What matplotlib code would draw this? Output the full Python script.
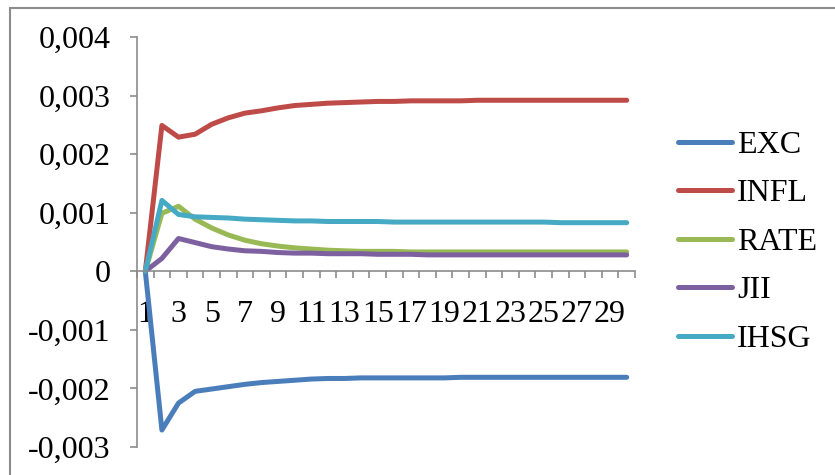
import matplotlib.pyplot as plt
import matplotlib.patches as mpatches
from matplotlib.ticker import FuncFormatter

plt.rcParams['font.family'] = ['Liberation Serif', 'DejaVu Serif']

periods = list(range(1, 31))
exc = [0, -0.00271, -0.00225, -0.00205, -0.00201, -0.00197, -0.00193, -0.00190, -0.00188, -0.00186,
       -0.00184, -0.00183, -0.00183, -0.00182, -0.00182, -0.00182, -0.00182, -0.00182, -0.00182, -0.00181,
       -0.00181, -0.00181, -0.00181, -0.00181, -0.00181, -0.00181, -0.00181, -0.00181, -0.00181, -0.00181]
infl = [0, 0.00249, 0.00229, 0.00234, 0.00251, 0.00262, 0.00270, 0.00274, 0.00279, 0.00283,
        0.00285, 0.00287, 0.00288, 0.00289, 0.00290, 0.00290, 0.00291, 0.00291, 0.00291, 0.00291,
        0.00292, 0.00292, 0.00292, 0.00292, 0.00292, 0.00292, 0.00292, 0.00292, 0.00292, 0.00292]
rate = [0, 0.00099, 0.00111, 0.00089, 0.00074, 0.00062, 0.00053, 0.00047, 0.00043, 0.00040,
        0.00038, 0.00036, 0.00035, 0.00034, 0.00034, 0.00034, 0.00033, 0.00033, 0.00033, 0.00033,
        0.00033, 0.00033, 0.00033, 0.00033, 0.00033, 0.00033, 0.00033, 0.00033, 0.00033, 0.00033]
jii = [0, 0.00022, 0.00056, 0.00049, 0.00042, 0.00038, 0.00035, 0.00034, 0.00032, 0.00031,
       0.00031, 0.00030, 0.00030, 0.00030, 0.00029, 0.00029, 0.00029, 0.00028, 0.00028, 0.00028,
       0.00028, 0.00028, 0.00028, 0.00028, 0.00028, 0.00028, 0.00028, 0.00028, 0.00028, 0.00028]
ihsg = [0, 0.00121, 0.00097, 0.00093, 0.00092, 0.00091, 0.00089, 0.00088, 0.00087, 0.00086,
        0.00086, 0.00085, 0.00085, 0.00085, 0.00085, 0.00084, 0.00084, 0.00084, 0.00084, 0.00084,
        0.00084, 0.00084, 0.00084, 0.00084, 0.00084, 0.00083, 0.00083, 0.00083, 0.00083, 0.00083]
names = ['EXC', 'INFL', 'RATE', 'JII', 'IHSG']
colors = ['#4A7EBB', '#BE4B48', '#98B954', '#7D60A0', '#46AAC5']

fig = plt.figure(figsize=(8.35, 4.75), dpi=100)
ax = fig.add_axes([137/835, 28/475, 498/835, 410/475])

for vals, name, c in zip([exc, infl, rate, jii, ihsg], names, colors):
    ax.plot(periods, vals, color=c, linewidth=3.6, label=name, solid_capstyle='round')

ax.set_xlim(0.5, 30.5)
ax.set_ylim(-0.003, 0.004)
ax.set_yticks([-0.003, -0.002, -0.001, 0, 0.001, 0.002, 0.003, 0.004])
ax.yaxis.set_major_formatter(FuncFormatter(
    lambda v, p: '0' if abs(v) < 1e-12 else ('%.3f' % v).replace('.', ',')))

# labels on every other category, tick marks between categories
ax.set_xticks(periods[::2])
ax.set_xticklabels([str(p) for p in periods[::2]])
ax.set_xticks([i + 0.5 for i in range(0, 31)], minor=True)

grey = '#8C8C8C'
for s in ['top', 'right']:
    ax.spines[s].set_visible(False)
ax.spines['bottom'].set_position(('data', 0))
ax.spines['bottom'].set_color(grey)
ax.spines['left'].set_color(grey)
ax.spines['bottom'].set_linewidth(1.2)
ax.spines['left'].set_linewidth(1.2)

ax.tick_params(axis='x', which='major', length=0, pad=21, labelsize=23)
ax.tick_params(axis='x', which='minor', length=5, width=1.2, color=grey, direction='out')
ax.tick_params(axis='y', length=5, width=1.2, color=grey, pad=14, labelsize=23)

ax.legend(loc='center left', bbox_to_anchor=(678/835, 0.49), bbox_transform=fig.transFigure,
          frameon=False, fontsize=23, handlelength=1.7, handletextpad=0.15,
          labelspacing=0.6, borderpad=0, borderaxespad=0)

fig.patches.append(mpatches.Rectangle((10/835, -0.1), 1.2, 1.1 - 8/475, transform=fig.transFigure,
                                      fill=False, edgecolor=grey, linewidth=1.5))

plt.savefig('out.png', dpi=100)
